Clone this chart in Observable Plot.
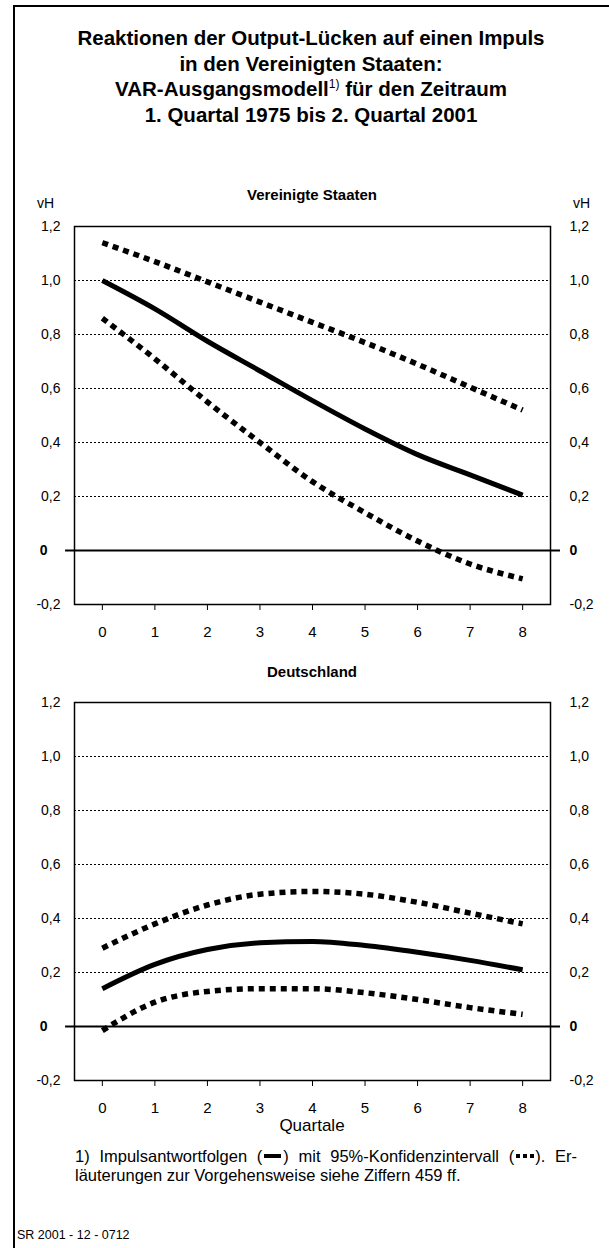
<!DOCTYPE html>
<html>
<head>
<meta charset="utf-8">
<script src="https://cdn.jsdelivr.net/npm/d3@7"></script>
<script src="https://cdn.jsdelivr.net/npm/@observablehq/plot@0.6"></script>
<style>
  html, body { margin: 0; padding: 0; background: #fff; }
  body { width: 609px; height: 1248px; position: relative; overflow: hidden;
         font-family: "Liberation Sans", Arial, sans-serif; color: #000; }
  .abs { position: absolute; }
  #outer { left: 13px; top: 5px; width: 620px; height: 1260px;
           border-left: 2px solid #000; border-top: 2px solid #000; }
  #title { left: 13px; width: 596px; top: 25px; text-align: center;
           font-weight: bold; font-size: 20.5px; line-height: 25.5px; }
  #title sup { font-size: 12px; font-weight: normal; vertical-align: 8px; line-height: 0; }
  .ptitle { left: 13px; width: 598px; text-align: center; font-weight: bold; font-size: 15px; }
  .vh { font-size: 14px; }
  #xlab { left: 13px; width: 598px; text-align: center; font-size: 17px; top: 1116px; }
  .note { left: 75px; font-size: 16.5px; line-height: 19px; white-space: nowrap; }
  #note1 { top: 1147px; width: 502px; white-space: normal; text-align: justify; text-align-last: justify; }
  #note2 { top: 1166px; }
  #code { left: 17px; top: 1228px; font-size: 12.5px; }
  .bar { display: inline-block; width: 17px; height: 4px; background: #000; vertical-align: 4px; margin: 0 2px; }
  .sq { display: inline-block; width: 4px; height: 4px; background: #000; vertical-align: 4px; margin: 0 1.5px; }
</style>
</head>
<body>
<div id="outer" class="abs"></div>
<div id="title" class="abs">Reaktionen der Output-Lücken auf einen Impuls<br>in den Vereinigten Staaten:<br>VAR-Ausgangsmodell<sup>1)</sup> für den Zeitraum<br>1. Quartal 1975 bis 2. Quartal 2001</div>
<div class="abs ptitle" style="top:186px">Vereinigte Staaten</div>
<div class="abs vh" style="left:37px; top:195px">vH</div>
<div class="abs vh" style="left:573px; top:195px">vH</div>
<div id="chart1" class="abs" style="left:0; top:180px"></div>
<div class="abs ptitle" style="top:663px">Deutschland</div>
<div id="chart2" class="abs" style="left:0; top:650px"></div>
<div id="xlab" class="abs">Quartale</div>
<div id="note1" class="abs note">1) Impulsantwortfolgen (<span class="bar"></span>) mit 95%-Konfidenzintervall (<span class="sq"></span><span class="sq"></span><span class="sq"></span>). Er-</div>
<div id="note2" class="abs note">läuterungen zur Vorgehensweise siehe Ziffern 459 ff.</div>
<div id="code" class="abs">SR 2001 - 12 - 0712</div>
<script>
// ---- data ----
const quarters = [0, 1, 2, 3, 4, 5, 6, 7, 8];
const usImpulse = [1.00, 0.895, 0.775, 0.665, 0.555, 0.45, 0.355, 0.28, 0.205];
const usUpper   = [1.14, 1.07, 0.995, 0.92, 0.845, 0.77, 0.69, 0.605, 0.52];
const usLower   = [0.86, 0.71, 0.55, 0.40, 0.255, 0.14, 0.035, -0.05, -0.105];
const deImpulse = [0.14, 0.23, 0.285, 0.31, 0.315, 0.30, 0.275, 0.245, 0.21];
const deUpper   = [0.29, 0.38, 0.45, 0.49, 0.50, 0.49, 0.46, 0.42, 0.38];
const deLower   = [-0.015, 0.09, 0.13, 0.14, 0.14, 0.125, 0.10, 0.07, 0.045];
const yTicks = [-0.2, 0.2, 0.4, 0.6, 0.8, 1.0, 1.2];
const gridTicks = [0.2, 0.4, 0.6, 0.8, 1.0];

const fmt = d => d.toFixed(1).replace(".", ",");
const rows = vals => quarters.map((q, i) => ({q, v: vals[i]}));

function panel(impulse, upper, lower, opts) {
  const lineStyle = {x: "q", y: "v", curve: "monotone-x", stroke: "black"};
  return Plot.plot({
    width: 609,
    height: opts.height,
    marginLeft: 74,
    marginRight: 59,
    marginTop: opts.marginTop,
    marginBottom: opts.marginBottom,
    style: {fontFamily: '"Liberation Sans", Arial, sans-serif', fontSize: "14px", color: "black", background: "transparent", overflow: "visible"},
    x: {domain: [-0.53, 8.53], label: null},
    y: {domain: [-0.2, 1.2], label: null},
    marks: [
      Plot.gridY(gridTicks, {stroke: "black", strokeOpacity: 1, strokeWidth: 1, strokeDasharray: "2,2"}),
      Plot.ruleY([0], {x1: -0.7, x2: 8.72, stroke: "black", strokeWidth: 2}),
      Plot.frame({stroke: "black", strokeWidth: 1.5}),
      Plot.axisY(yTicks, {anchor: "left", label: null, tickSize: 0, tickPadding: 14, tickFormat: fmt, fontSize: 14}),
      Plot.axisY([0], {anchor: "left", label: null, tickSize: 0, tickPadding: 14, tickFormat: d => "0", fontWeight: "bold", dx: -13, fontSize: 14}),
      Plot.axisY(yTicks, {anchor: "right", label: null, tickSize: 0, tickPadding: 19, tickFormat: fmt, fontSize: 14}),
      Plot.axisY([0], {anchor: "right", label: null, tickSize: 0, tickPadding: 19, tickFormat: d => "0", fontWeight: "bold", fontSize: 14}),
      Plot.axisX(quarters, {anchor: "bottom", label: null, tickSize: 6, tickPadding: 16, fontSize: 15}),
      Plot.line(rows(upper), {...lineStyle, strokeWidth: 5.5, strokeDasharray: "6,5", strokeLinecap: "butt"}),
      Plot.line(rows(lower), {...lineStyle, strokeWidth: 5.5, strokeDasharray: "6,5", strokeLinecap: "butt"}),
      Plot.line(rows(impulse), {...lineStyle, strokeWidth: 5, strokeLinecap: "butt"})
    ]
  });
}

document.getElementById("chart1").append(
  panel(usImpulse, usUpper, usLower, {height: 470, marginTop: 46, marginBottom: 46}));
document.getElementById("chart2").append(
  panel(deImpulse, deUpper, deLower, {height: 470, marginTop: 52, marginBottom: 40}));
</script>
</body>
</html>
